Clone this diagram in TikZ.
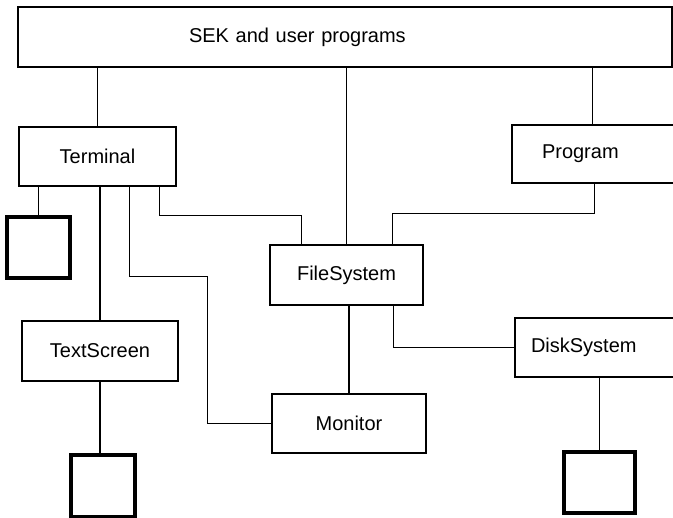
\documentclass[tikz,border=0pt]{standalone}
\usepackage{fontspec}
\setmainfont{Liberation Sans}
\tikzset{
  box/.style={draw, line width=1.5pt, minimum height=59pt, font=\fontsize{20}{24}\selectfont},
  dev/.style={draw, line width=3.2pt, minimum width=63pt, minimum height=61pt},
  wire/.style={line width=1.5pt}
}
\begin{document}
\begin{tikzpicture}[x=1pt, y=-1pt]
                \useasboundingbox (0,0) rectangle (673,518);
                \clip (0,0) rectangle (673,518);
                \node[box, minimum height=60pt, text width=312pt, inner xsep=171pt, align=left] (sek) at (345,37) {SEK and user programs};
                \node[box, minimum width=157pt] (term) at (97.5,156.5) {Terminal};
                \node[box, minimum height=58pt, text width=120pt, inner xsep=30pt, align=left] (prog) at (602,154) {Program};
                \node[box, minimum width=153pt, minimum height=60pt] (fsys) at (346.5,275) {FileSystem};
                \node[box, minimum width=156pt, minimum height=60pt] (tscr) at (100,351) {TextScreen};
                \node[box, text width=148pt, inner xsep=16pt, align=left] (disk) at (605,347.5) {DiskSystem};
                \node[box, minimum width=154pt] (moni) at (349,423.5) {Monitor};
                \node[dev] (term0) at (38.5,247.5) {};
                \node[dev, minimum width=64pt, minimum height=62pt] (tscr0) at (103,486) {};
                \node[dev, minimum width=71pt] (disk0) at (599.5,482.5) {};

                \draw[wire] (term.north) -- (term.north |- sek.south);
                \draw[wire] (fsys.north) -- (fsys.north |- sek.south);
                \draw[wire] ([xshift=81pt]prog.north west) -- ([xshift=81pt]prog.north west |- sek.south);
                \draw[wire] (term0.north) -- (term0.north |- term.south);
                \draw[wire] (tscr.north) -- (tscr.north |- term.south);
                \draw[wire] ([xshift=32pt]term.south) -- ++(0,90) -| ([xshift=-64pt]moni.west) -- (moni.west);
                \draw[wire] ([xshift=62pt]term.south) -- ++(0,29) -| ([xshift=32pt]fsys.north west);
                \draw[wire] ([xshift=83pt]prog.south west) -- ++(0,30) -| ([xshift=123pt]fsys.north west);
                \draw[wire] (moni.north) -- (moni.north |- fsys.south);
                \draw[wire] ([xshift=124pt]fsys.south west) |- (disk.west);
                \draw[wire] (tscr.south) -- (tscr.south |- tscr0.north);
                \draw[wire] (disk0.north) -- (disk0.north |- disk.south);
            \end{tikzpicture}
\end{document}
